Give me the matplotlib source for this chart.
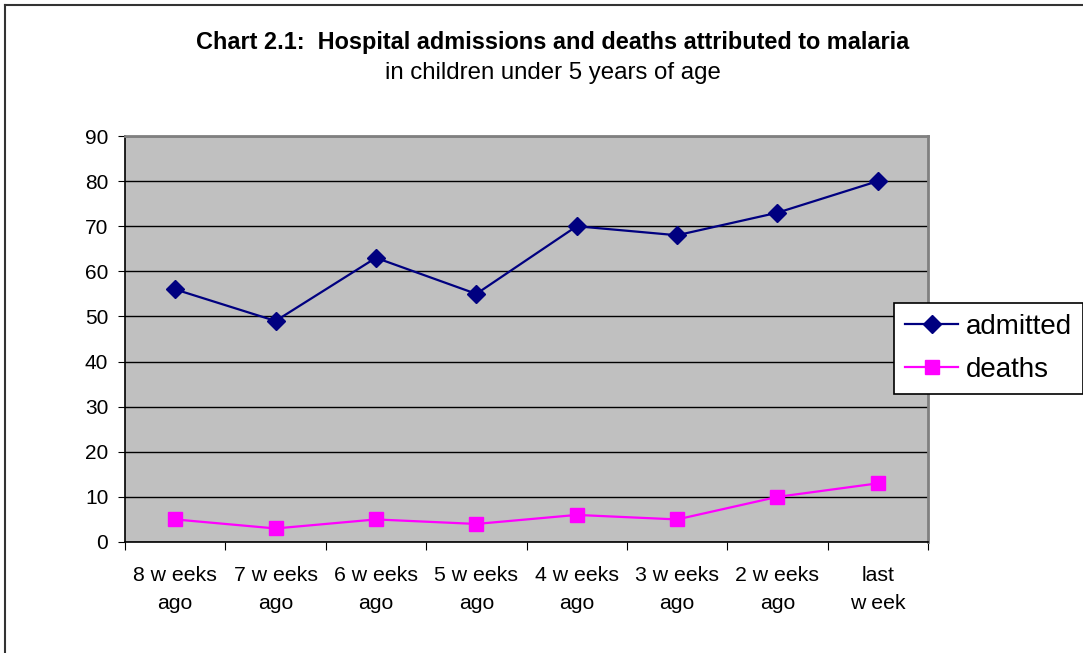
import matplotlib.pyplot as plt
from matplotlib.lines import Line2D

plt.rcParams['font.family'] = ['Liberation Sans', 'DejaVu Sans']

weeks = ["8 w eeks\nago", "7 w eeks\nago", "6 w eeks\nago", "5 w eeks\nago",
         "4 w eeks\nago", "3 w eeks\nago", "2 w eeks\nago", "last\nw eek"]
admitted = [56, 49, 63, 55, 70, 68, 73, 80]
deaths = [5, 3, 5, 4, 6, 5, 10, 13]

fig = plt.figure(figsize=(10.83, 6.53), dpi=100)
ax = fig.add_axes([0.1154, 0.1700, 0.7415, 0.6217])
ax.set_facecolor('#c0c0c0')

x = [i + 0.5 for i in range(len(weeks))]
ax.plot(x, admitted, color='#000080', lw=1.6, marker='D', ms=9,
        label='admitted', zorder=3)
ax.plot(x, deaths, color='#ff00ff', lw=1.6, marker='s', ms=10,
        label='deaths', zorder=3)

ax.set_xlim(0, len(weeks))
ax.set_ylim(0, 90)
ax.set_yticks(range(0, 91, 10))
ax.yaxis.grid(True, color='black', lw=1)
ax.set_axisbelow(True)

# category boundaries get tick marks, labels sit in the middle
ax.set_xticks(range(len(weeks) + 1))
ax.set_xticklabels([])
ax.set_xticks(x, minor=True)
ax.set_xticklabels(weeks, minor=True, fontsize=15.3, linespacing=1.65)
ax.tick_params(axis='x', which='major', direction='out', length=6, color='black')
ax.tick_params(axis='x', which='minor', length=0, pad=17)
ax.tick_params(axis='y', direction='out', length=5, pad=7, labelsize=15)

for s in ['left', 'bottom']:
    ax.spines[s].set_color('black')
    ax.spines[s].set_linewidth(1.2)
for s in ['top', 'right']:
    ax.spines[s].set_color('#808080')
    ax.spines[s].set_linewidth(2)

fig.text(0.5105, 0.935, "Chart 2.1:  Hospital admissions and deaths attributed to malaria",
         ha='center', va='center', fontsize=16.9, fontweight='bold')
fig.text(0.5105, 0.888, "in children under 5 years of age",
         ha='center', va='center', fontsize=17.3)

leg = ax.legend(loc='upper left', bbox_to_anchor=(0.8255, 0.536),
                bbox_transform=fig.transFigure, borderaxespad=0,
                fontsize=20, fancybox=False, framealpha=1,
                handlelength=1.9, handletextpad=0.3, borderpad=0.4,
                labelspacing=0.6)
leg.get_frame().set_edgecolor('black')
leg.get_frame().set_linewidth(1.2)

# outer chart border (top and left edges visible)
fig.add_artist(Line2D([0.0046, 1.0], [0.9923, 0.9923], color='#333333', lw=1.5))
fig.add_artist(Line2D([0.0046, 0.0046], [0.0, 0.9923], color='#333333', lw=1.5))

fig.savefig('out.png', dpi=100)
